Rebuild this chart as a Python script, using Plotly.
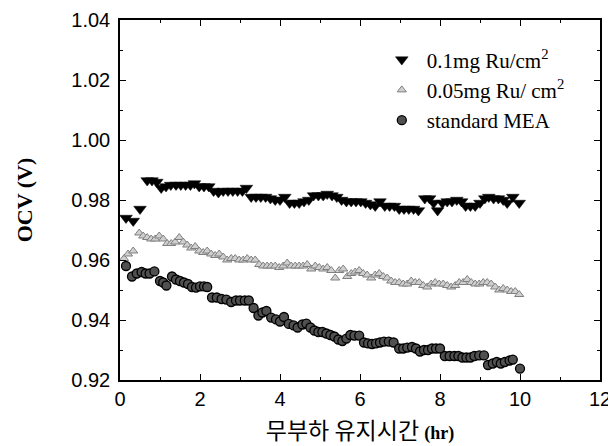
import plotly.graph_objects as go

# Series 1: 0.1 mg Ru/cm2
x_ru01 = [0.15, 0.33, 0.50, 0.68, 0.80, 0.92, 1.03, 1.15, 1.27, 1.40, 1.52, 1.64, 1.76, 1.86, 1.98,
          2.10, 2.22, 2.34, 2.46, 2.58, 2.70, 2.82, 2.94, 3.06, 3.16, 3.28, 3.40, 3.52, 3.64, 3.76,
          3.88, 4.00, 4.12, 4.24, 4.36, 4.48, 4.60, 4.72, 4.84, 4.96, 5.08, 5.18, 5.30, 5.42, 5.54,
          5.66, 5.78, 5.90, 6.02, 6.14, 6.26, 6.38, 6.50, 6.62, 6.74, 6.86, 6.98, 7.10, 7.22, 7.34,
          7.46, 7.62, 7.74, 7.84, 7.94, 8.06, 8.18, 8.30, 8.42, 8.54, 8.64, 8.76, 8.88, 9.00, 9.12,
          9.22, 9.34, 9.46, 9.58, 9.68, 9.82, 9.98]
y_ru01 = [0.974, 0.973, 0.977, 0.9865, 0.9865, 0.986, 0.984, 0.9845, 0.985, 0.985, 0.985, 0.985, 0.985, 0.9855, 0.9845,
          0.9845, 0.9845, 0.983, 0.9825, 0.983, 0.983, 0.983, 0.983, 0.983, 0.984, 0.981, 0.981, 0.981, 0.981, 0.9805,
          0.980, 0.980, 0.981, 0.979, 0.979, 0.979, 0.9795, 0.980, 0.9815, 0.9815, 0.9815, 0.982, 0.9815, 0.981, 0.980,
          0.9795, 0.9795, 0.9795, 0.9795, 0.979, 0.9785, 0.978, 0.9795, 0.978, 0.978, 0.978, 0.977, 0.977, 0.977, 0.977,
          0.9765, 0.9805, 0.9805, 0.979, 0.9765, 0.979, 0.9795, 0.9795, 0.980, 0.9795, 0.978, 0.978, 0.978, 0.979, 0.9805,
          0.981, 0.9805, 0.9805, 0.980, 0.979, 0.981, 0.979]

# Series 2: 0.05 mg Ru/cm2
x_ru005 = [0.10, 0.20, 0.33, 0.48, 0.58, 0.68, 0.78, 0.88, 0.98, 1.08, 1.18, 1.28, 1.38, 1.48, 1.58,
           1.68, 1.78, 1.88, 1.98, 2.08, 2.18, 2.28, 2.38, 2.48, 2.58, 2.68, 2.78, 2.88, 2.98, 3.08,
           3.18, 3.28, 3.38, 3.48, 3.58, 3.68, 3.78, 3.88, 3.98, 4.08, 4.18, 4.28, 4.38, 4.48, 4.58,
           4.68, 4.78, 4.88, 4.98, 5.08, 5.18, 5.28, 5.38, 5.48, 5.58, 5.68, 5.78, 5.88, 5.98, 6.08,
           6.18, 6.28, 6.38, 6.48, 6.58, 6.68, 6.78, 6.88, 6.98, 7.08, 7.18, 7.28, 7.38, 7.48, 7.58,
           7.68, 7.78, 7.88, 7.98, 8.08, 8.18, 8.28, 8.38, 8.48, 8.58, 8.68, 8.78, 8.88, 8.98, 9.08,
           9.18, 9.28, 9.38, 9.48, 9.58, 9.68, 9.78, 9.88, 9.98]
y_ru005 = [0.9605, 0.962, 0.963, 0.969, 0.968, 0.9675, 0.967, 0.967, 0.968, 0.967, 0.9655, 0.9655, 0.966, 0.9675, 0.966,
           0.965, 0.964, 0.9645, 0.963, 0.9625, 0.963, 0.962, 0.9615, 0.962, 0.961, 0.960, 0.9605, 0.9605, 0.960, 0.960,
           0.9605, 0.960, 0.960, 0.9585, 0.958, 0.958, 0.958, 0.958, 0.9575, 0.958, 0.959, 0.958, 0.958, 0.958, 0.958,
           0.9585, 0.957, 0.958, 0.9575, 0.957, 0.9575, 0.9565, 0.954, 0.9565, 0.957, 0.9545, 0.9555, 0.956, 0.9565, 0.9555,
           0.955, 0.954, 0.955, 0.9555, 0.9545, 0.954, 0.953, 0.9525, 0.9525, 0.952, 0.952, 0.953, 0.9525, 0.9525, 0.9515,
           0.951, 0.952, 0.9525, 0.952, 0.952, 0.9515, 0.951, 0.9515, 0.9525, 0.9525, 0.9535, 0.9525, 0.952, 0.952, 0.9525,
           0.9525, 0.952, 0.951, 0.950, 0.9505, 0.950, 0.9495, 0.9495, 0.9485]

# Series 3: standard MEA
x_std = [0.15, 0.30, 0.42, 0.54, 0.64, 0.74, 0.86, 1.00, 1.08, 1.16, 1.30, 1.40, 1.50, 1.60, 1.70,
         1.80, 1.90, 2.00, 2.10, 2.18, 2.30, 2.42, 2.54, 2.66, 2.78, 2.90, 3.00, 3.12, 3.22, 3.34,
         3.46, 3.56, 3.66, 3.78, 3.90, 4.00, 4.10, 4.22, 4.34, 4.44, 4.56, 4.66, 4.76, 4.86, 4.96,
         5.06, 5.16, 5.26, 5.36, 5.46, 5.56, 5.66, 5.76, 5.86, 5.98, 6.10, 6.20, 6.30, 6.40, 6.50,
         6.60, 6.72, 6.84, 6.98, 7.08, 7.18, 7.30, 7.40, 7.50, 7.60, 7.70, 7.80, 7.90, 8.00, 8.12,
         8.24, 8.36, 8.46, 8.56, 8.66, 8.76, 8.86, 8.98, 9.10, 9.20, 9.32, 9.42, 9.52, 9.62, 9.74,
         9.82, 10.00]
y_std = [0.958, 0.9545, 0.9555, 0.956, 0.9555, 0.9555, 0.9562, 0.953, 0.9525, 0.9515, 0.9545, 0.9535, 0.953, 0.9525, 0.952,
         0.951, 0.9508, 0.9512, 0.9512, 0.951, 0.9475, 0.9475, 0.947, 0.9468, 0.946, 0.9465, 0.9465, 0.9465, 0.9465, 0.944,
         0.9415, 0.9425, 0.943, 0.9408, 0.9402, 0.9395, 0.941, 0.9387, 0.9382, 0.9375, 0.9385, 0.9388, 0.9375, 0.9365, 0.936,
         0.936, 0.9355, 0.935, 0.9345, 0.9335, 0.933, 0.9338, 0.935, 0.9348, 0.9348, 0.9325, 0.9322, 0.932, 0.9322, 0.9325,
         0.9328, 0.9328, 0.9325, 0.9305, 0.9305, 0.9308, 0.931, 0.9305, 0.9295, 0.930, 0.930, 0.9305, 0.9305, 0.9305, 0.928,
         0.928, 0.928, 0.928, 0.9275, 0.9275, 0.9275, 0.928, 0.9282, 0.9282, 0.925, 0.9255, 0.926, 0.9255, 0.926, 0.9265,
         0.9268, 0.9238]

names = ["0.1mg Ru/cm<sup>2</sup>", "0.05mg Ru/ cm<sup>2</sup>", "standard MEA"]
x_ticks = [0, 2, 4, 6, 8, 10, 12]
y_ticks = [0.92, 0.94, 0.96, 0.98, 1.00, 1.02, 1.04]

fig = go.Figure()
fig.add_trace(go.Scatter(x=x_ru01, y=y_ru01, mode="markers", name=names[0],
                         marker=dict(symbol="triangle-down", size=11, color="black",
                                     line=dict(color="black", width=0.5))))
fig.add_trace(go.Scatter(x=x_ru005, y=y_ru005, mode="markers", name=names[1],
                         marker=dict(symbol="triangle-up", size=8, color="#cfcfcf",
                                     line=dict(color="#808080", width=1))))
fig.add_trace(go.Scatter(x=x_std, y=y_std, mode="markers", name=names[2],
                         marker=dict(symbol="circle", size=9, color="#505050",
                                     line=dict(color="black", width=1.3))))

axis_common = dict(showline=True, linecolor="black", linewidth=1.5, mirror="ticks",
                   ticks="inside", ticklen=6, tickwidth=1.2, tickcolor="black",
                   showgrid=False, zeroline=False, automargin=False,
                   tickfont=dict(family="Liberation Sans, Arial, sans-serif", size=20, color="black"))

fig.update_xaxes(range=[0, 12], tickvals=x_ticks, ticktext=[str(v) for v in x_ticks],
                 minor=dict(ticks="inside", ticklen=3, dtick=1, tickcolor="black", tickwidth=1),
                 ticklabelstandoff=0,
                 title=dict(text="무부하 유지시간 <b><span style='font-family:Liberation Serif;font-size:18px'>(hr)</span></b>",
                            font=dict(family="Noto Sans CJK KR", size=23, color="black"), standoff=15),
                 **axis_common)
fig.update_yaxes(range=[0.92, 1.04], tickvals=y_ticks, ticktext=[f"{v:.2f}" for v in y_ticks],
                 minor=dict(ticks="inside", ticklen=3, dtick=0.01, tickcolor="black", tickwidth=1),
                 ticklabelstandoff=4,
                 title=dict(text="<b>OCV (V)</b>",
                            font=dict(family="Liberation Serif, Times New Roman, serif", size=22, color="black"),
                            standoff=33),
                 **axis_common)

# The page body has an 8 px margin, so the figure is sized to fit the window.
fig.update_layout(
    width=608, height=438,
    margin=dict(l=112, r=16, t=12, b=66),
    paper_bgcolor="white", plot_bgcolor="white",
    showlegend=True,
    legend=dict(x=0.535, y=0.946, xanchor="left", yanchor="top",
                font=dict(family="Liberation Serif, Times New Roman, serif", size=21, color="black"),
                bgcolor="rgba(0,0,0,0)", tracegroupgap=0, itemwidth=40),
)

fig.write_html("out.html")
